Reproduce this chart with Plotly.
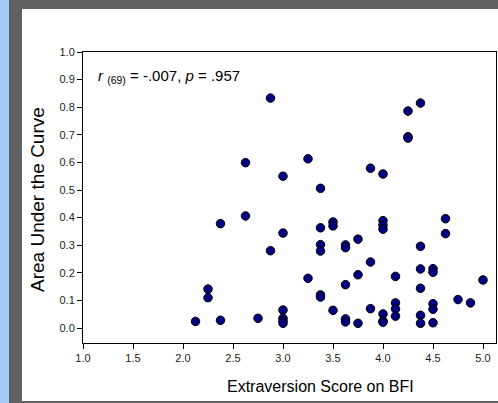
import plotly.graph_objects as go

# Extraversion score (x) and area under the curve (y)
extraversion = [2.875, 3.25, 2.625, 3.0, 3.375, 2.625, 2.375, 3.375, 3.0, 3.375,
                3.375, 2.875, 3.25, 4.375, 4.25, 4.25, 4.25, 3.875, 4.0, 4.625,
                4.0, 4.0, 4.0, 3.5, 3.5, 4.625, 3.625, 3.625, 3.75, 4.375,
                3.875, 4.375, 4.5, 4.5, 3.75, 4.125, 5.0, 2.25, 2.25, 3.625,
                4.375, 3.375, 3.375, 4.75, 4.875, 4.125, 4.125, 4.125, 4.5, 4.5,
                3.5, 3.875, 3.0, 3.0, 3.0, 3.0, 2.75, 2.375, 2.125, 3.625,
                3.625, 3.75, 4.0, 4.0, 4.0, 4.375, 4.375, 4.5]
auc = [0.833, 0.613, 0.599, 0.550, 0.506, 0.406, 0.378, 0.363, 0.344, 0.302,
       0.279, 0.280, 0.180, 0.815, 0.786, 0.693, 0.688, 0.579, 0.558, 0.396,
       0.389, 0.372, 0.358, 0.384, 0.370, 0.342, 0.301, 0.291, 0.322, 0.296,
       0.239, 0.214, 0.215, 0.202, 0.193, 0.187, 0.174, 0.141, 0.110, 0.157,
       0.144, 0.120, 0.112, 0.103, 0.091, 0.091, 0.069, 0.043, 0.088, 0.068,
       0.064, 0.070, 0.065, 0.035, 0.026, 0.017, 0.035, 0.028, 0.024, 0.033,
       0.022, 0.017, 0.051, 0.025, 0.021, 0.046, 0.017, 0.019]

x_ticks = [1.0, 1.5, 2.0, 2.5, 3.0, 3.5, 4.0, 4.5, 5.0]
y_ticks = [0.0, 0.1, 0.2, 0.3, 0.4, 0.5, 0.6, 0.7, 0.8, 0.9, 1.0]

x_title = "Extraversion Score on BFI"
y_title = "Area Under the Curve"
stat_text = "<i>r</i> <sub>(69)</sub> = -.007, <i>p</i> = .957"

FIG_W, FIG_H = 498, 403
L, T, R, B = 83, 52, 2, 60
PW, PH = FIG_W - L - R, FIG_H - T - B


def pxx(px):
    return (px - L) / PW


def pxy(py):
    return 1 - (py - T) / PH


fig = go.Figure()
fig.add_trace(go.Scatter(
    x=extraversion, y=auc, mode="markers",
    marker=dict(size=8.5, color="#000080", line=dict(color="black", width=1)),
    showlegend=False, cliponaxis=False,
))

FONT = "Liberation Sans, Arial, sans-serif"
GRAY = "#616161"
BLUE = "#a3cbf7"

shape_objs = [
    # white panel (figure background is the gray frame)
    dict(type="rect", xref="paper", yref="paper", fillcolor="white",
         line=dict(width=0), layer="below",
         x0=pxx(22), x1=pxx(FIG_W + 2), y0=pxy(401), y1=pxy(9)),
    # light blue strip at left edge
    dict(type="rect", xref="paper", yref="paper", fillcolor=BLUE,
         line=dict(width=0), layer="below",
         x0=pxx(-2), x1=pxx(9), y0=pxy(FIG_H + 2), y1=pxy(-2)),
]

fig.update_layout(
    width=FIG_W, height=FIG_H,
    margin=dict(l=L, r=R, t=T, b=B, pad=0),
    paper_bgcolor=GRAY, plot_bgcolor="white",
    font=dict(family=FONT, color="#222222", size=11),
    shapes=shape_objs,
    annotations=[
        dict(text=stat_text, xref="paper", yref="paper", x=pxx(96), y=pxy(76),
             xanchor="left", yanchor="middle", showarrow=False,
             font=dict(family=FONT, size=15, color="black")),
        dict(text=x_title, xref="paper", yref="paper", x=pxx(320), y=pxy(386),
             xanchor="center", yanchor="middle", showarrow=False,
             font=dict(family=FONT, size=16, color="black")),
        dict(text=y_title, xref="paper", yref="paper", x=pxx(37), y=pxy(200),
             xanchor="center", yanchor="middle", showarrow=False, textangle=-90,
             font=dict(family=FONT, size=19, color="black")),
    ],
    xaxis=dict(range=[1.0, 1.0 + PW / 100.0], tickvals=x_ticks,
               ticktext=[f"{v:.1f}" for v in x_ticks],
               showgrid=False, zeroline=False, showline=True, linecolor="black",
               linewidth=1, mirror=True, ticks="outside", ticklen=5,
               tickcolor="black", tickfont=dict(size=11, color="#222222")),
    yaxis=dict(range=[-15 / 276.0, 1.0], tickvals=y_ticks,
               ticktext=[f"{v:.1f}" for v in y_ticks],
               showgrid=False, zeroline=False, showline=True, linecolor="black",
               linewidth=1, mirror=True, ticks="outside", ticklen=5,
               tickcolor="black", tickfont=dict(size=11, color="#222222")),
)

fig.write_html("out.html", config={"displayModeBar": False},
               post_script="document.body.style.margin='0';")
